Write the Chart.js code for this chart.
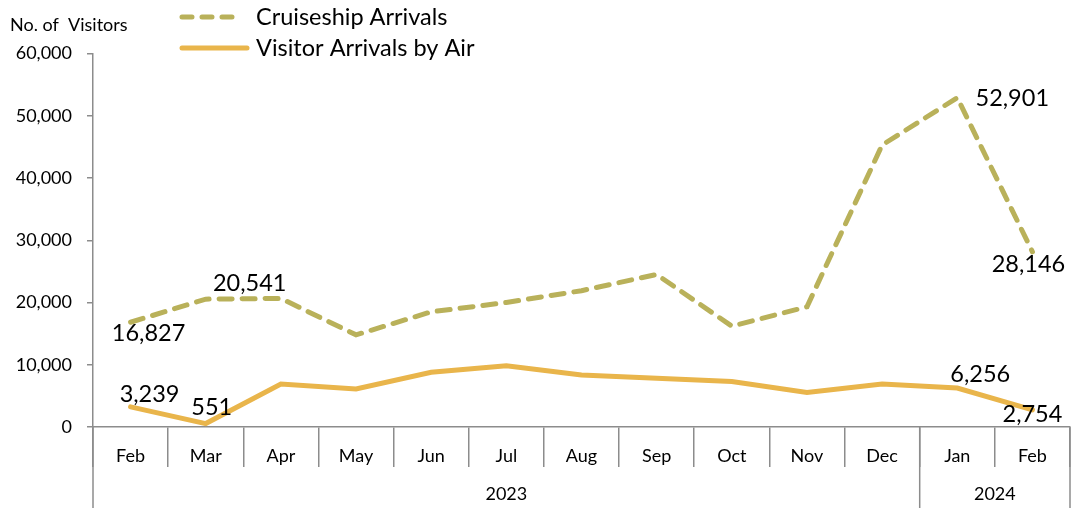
<!DOCTYPE html>
<html>
<head>
<meta charset="utf-8">
<script src="https://cdn.jsdelivr.net/npm/chart.js@4.4.1/dist/chart.umd.min.js"></script>
<style>
  html, body { margin: 0; padding: 0; background: #fff; }
  #wrap { width: 1071px; height: 508px; }
</style>
</head>
<body>
<div id="wrap"><canvas id="chart"></canvas></div>
<script>
// ================== Data ==================
const months = ["Feb", "Mar", "Apr", "May", "Jun", "Jul", "Aug", "Sep", "Oct", "Nov", "Dec", "Jan", "Feb"];
const years = [{ label: "2023", from: 0, to: 10 }, { label: "2024", from: 11, to: 12 }];
const cruiseArrivals = [16827, 20541, 20650, 14800, 18500, 20000, 21900, 24500, 16200, 19300, 45300, 52901, 28146];
const airArrivals = [3239, 551, 6900, 6100, 8800, 9850, 8350, 7850, 7300, 5550, 6900, 6256, 2754];
const yTicks = [0, 10000, 20000, 30000, 40000, 50000, 60000];

const FONT = "Lato, 'Open Sans', sans-serif";
const AXIS_GREY = "#8c8c8c";
const CRUISE_COL = "#b9b15a";
const AIR_COL = "#e9b54b";

// which points get a value label, and where (dx, dy from the point)
const cruiseLabels = { 0: [18, 11], 1: [44, -16], 11: [55, 1], 12: [-4, 13] };
const airLabels = { 0: [19, -12], 1: [6, -16], 11: [23, -14], 12: [0, 5] };

// ================== Plugins ==================
const decorations = {
  id: "decorations",
  afterDraw(chart) {
    const { ctx, chartArea, scales } = chart;
    const x = scales.x;
    const step = x.getPixelForValue(1) - x.getPixelForValue(0);
    ctx.save();

    // axis title
    ctx.fillStyle = "#000";
    ctx.font = "18px " + FONT;
    ctx.textAlign = "left";
    ctx.textBaseline = "middle";
    ctx.fillText("No. of  Visitors", 10, 25);

    // legend
    ctx.lineWidth = 5;
    ctx.lineCap = "round";
    ctx.strokeStyle = CRUISE_COL;
    ctx.setLineDash([10, 10]);
    ctx.beginPath(); ctx.moveTo(182, 17); ctx.lineTo(242, 17); ctx.stroke();
    ctx.setLineDash([]);
    ctx.strokeStyle = AIR_COL;
    ctx.beginPath(); ctx.moveTo(182, 48); ctx.lineTo(247, 48); ctx.stroke();
    ctx.font = "23.5px " + FONT;
    ctx.fillText("Cruiseship Arrivals", 256, 17);
    ctx.fillText("Visitor Arrivals by Air", 256, 48);

    // y axis extended down and year group separators
    ctx.strokeStyle = AXIS_GREY;
    ctx.lineWidth = 1.5;
    ctx.lineCap = "butt";
    const bottom = chart.height;
    const edges = [x.getPixelForValue(0) - step / 2];
    years.forEach(y => edges.push(x.getPixelForValue(y.to) + step / 2));
    edges.forEach(px => {
      ctx.beginPath(); ctx.moveTo(px, chartArea.bottom); ctx.lineTo(px, bottom); ctx.stroke();
    });

    // year labels
    ctx.fillStyle = "#000";
    ctx.font = "18px " + FONT;
    ctx.textAlign = "center";
    years.forEach(y => {
      const cx = (x.getPixelForValue(y.from) + x.getPixelForValue(y.to)) / 2;
      ctx.fillText(y.label, cx, 494);
    });

    // value labels
    ctx.font = "23.5px " + FONT;
    const drawLabels = (dsIndex, where) => {
      const meta = chart.getDatasetMeta(dsIndex);
      const data = chart.data.datasets[dsIndex].data;
      Object.keys(where).forEach(i => {
        const pt = meta.data[i];
        const [dx, dy] = where[i];
        ctx.fillText(data[i].toLocaleString("en-US"), pt.x + dx, pt.y + dy);
      });
    };
    drawLabels(0, cruiseLabels);
    drawLabels(1, airLabels);
    ctx.restore();
  }
};

// ================== Chart ==================
new Chart(document.getElementById("chart"), {
  type: "line",
  data: {
    labels: months,
    datasets: [
      {
        label: "Cruiseship Arrivals",
        data: cruiseArrivals,
        borderColor: CRUISE_COL,
        borderWidth: 5,
        borderDash: [13, 10],
        borderCapStyle: "round",
        pointRadius: 0,
        tension: 0
      },
      {
        label: "Visitor Arrivals by Air",
        data: airArrivals,
        borderColor: AIR_COL,
        borderWidth: 5,
        borderCapStyle: "round",
        pointRadius: 0,
        tension: 0
      }
    ]
  },
  options: {
    responsive: true,
    maintainAspectRatio: false,
    animation: false,
    layout: { padding: { top: 53.5, right: 1, left: 0, bottom: 0 } },
    plugins: { legend: { display: false }, tooltip: { enabled: false } },
    scales: {
      x: {
        offset: true,
        grid: {
          offset: true,
          drawOnChartArea: false,
          drawTicks: true,
          tickLength: 40,
          color: AXIS_GREY,
          lineWidth: 1.5
        },
        border: { color: AXIS_GREY, width: 1.5 },
        ticks: {
          color: "#000",
          font: { family: FONT, size: 18 },
          padding: -22,
          maxRotation: 0,
          autoSkip: false
        },
        afterFit(scale) { scale.height = 81; }
      },
      y: {
        min: 0,
        max: 60000,
        afterBuildTicks(scale) { scale.ticks = yTicks.map(v => ({ value: v })); },
        grid: {
          drawOnChartArea: false,
          drawTicks: true,
          tickLength: 6,
          color: AXIS_GREY,
          lineWidth: 1.5
        },
        border: { color: AXIS_GREY, width: 1.5 },
        ticks: {
          color: "#000",
          font: { family: FONT, size: 18 },
          padding: 15,
          callback: v => v.toLocaleString("en-US")
        },
        afterFit(scale) { scale.width = 93; }
      }
    }
  },
  plugins: [decorations]
});
</script>
</body>
</html>
